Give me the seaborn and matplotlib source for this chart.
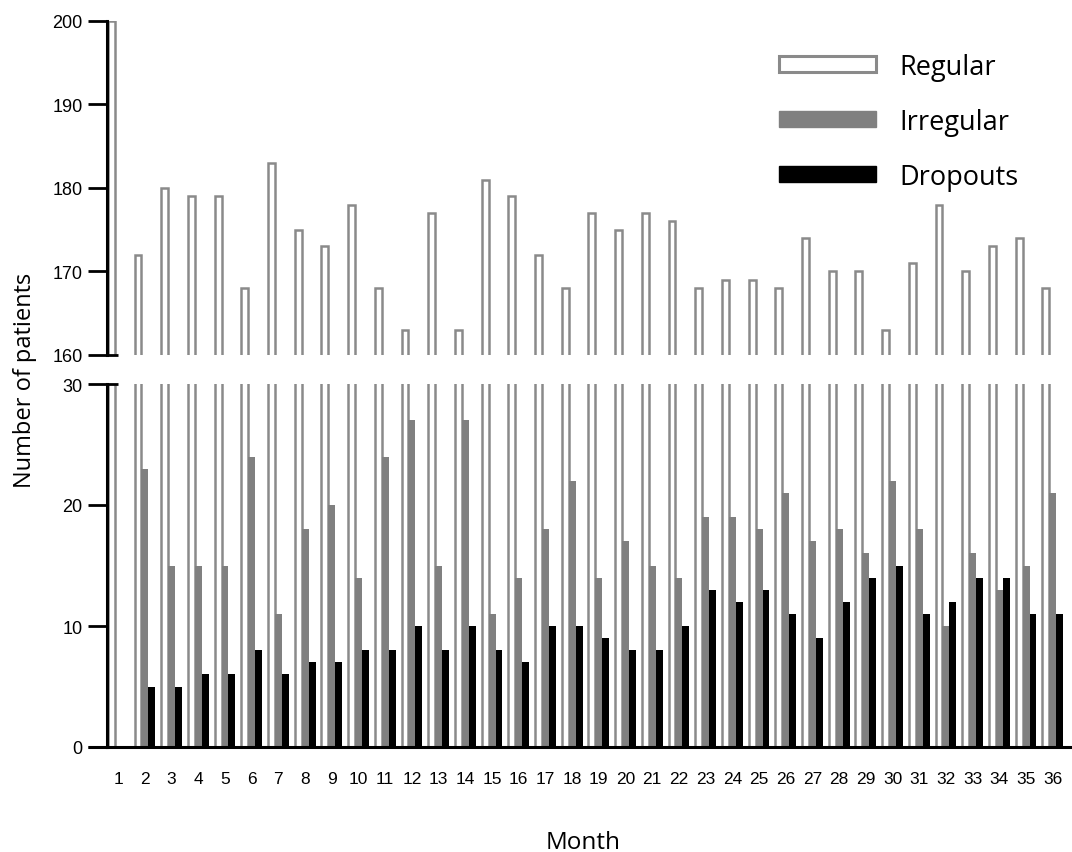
import numpy as np
import pandas as pd
import matplotlib
matplotlib.use("Agg")
import matplotlib.pyplot as plt
import seaborn as sns
from matplotlib.patches import Patch

months = [str(m) for m in range(1, 37)]
regular = [200, 172, 180, 179, 179, 168, 183, 175, 173, 178, 168, 163, 177, 163, 181, 179,
           172, 168, 177, 175, 177, 176, 168, 169, 169, 168, 174, 170, 170, 163, 171, 178,
           170, 173, 174, 168]
irregular = [0, 23, 15, 15, 15, 24, 11, 18, 20, 14, 24, 27, 15, 27, 11, 14,
             18, 22, 14, 17, 15, 14, 19, 19, 18, 21, 17, 18, 16, 22, 18, 10,
             16, 13, 15, 21]
dropouts = [0, 5, 5, 6, 6, 8, 6, 7, 7, 8, 8, 10, 8, 10, 8, 7,
            10, 10, 9, 8, 8, 10, 13, 12, 13, 11, 9, 12, 14, 15, 11, 12,
            14, 14, 11, 11]
groups = ["Regular", "Irregular", "Dropouts"]

df = pd.DataFrame({
    "Month": months * 3,
    "Patients": regular + irregular + dropouts,
    "Group": ["Regular"] * 36 + ["Irregular"] * 36 + ["Dropouts"] * 36,
})

sns.set_theme(style="white")
plt.rcParams["font.family"] = ["Liberation Sans", "DejaVu Sans"]

W, H = 1072, 853
fig = plt.figure(figsize=(W / 100, H / 100), dpi=100)
left = 107 / W
ax_top = fig.add_axes([left, (H - 356) / H, 1 - left, (356 - 22) / H])
ax_bot = fig.add_axes([left, (H - 748) / H, 1 - left, (748 - 385) / H])

palette = {"Regular": "white", "Irregular": "#808080", "Dropouts": "black"}
edge_gray = "#8a8a8a"

for ax in (ax_top, ax_bot):
    sns.barplot(data=df, x="Month", y="Patients", hue="Group", hue_order=groups,
                palette=palette, width=0.78, ax=ax, legend=False, saturation=1,
                linewidth=0)
    # style Regular bars: white fill with gray outline
    for p in ax.containers[0]:
        p.set_facecolor("white")
        p.set_edgecolor(edge_gray)
        p.set_linewidth(1.8)
    ax.set_xlim(-0.42, 35.72)
    ax.set_xlabel("")
    ax.set_ylabel("")
    for s in ["top", "right"]:
        ax.spines[s].set_visible(False)
    ax.spines["left"].set_linewidth(2.2)
    ax.spines["left"].set_color("black")
    ax.tick_params(axis="y", direction="out", length=14, width=2.0, color="black",
                   labelsize=13, labelcolor="black", pad=3.5, left=True)

ax_top.set_ylim(160, 200)
ax_top.set_yticks([160, 170, 180, 190, 200])
ax_top.spines["bottom"].set_visible(False)
ax_top.tick_params(axis="x", bottom=False, labelbottom=False)

ax_bot.set_ylim(0, 30)
ax_bot.set_yticks([0, 10, 20, 30])
ax_bot.spines["bottom"].set_linewidth(2.2)
ax_bot.spines["bottom"].set_color("black")
ax_bot.tick_params(axis="x", bottom=False, length=0, labelsize=12.5,
                   labelcolor="black", pad=17)

# break marks extending into the plot
ax_top.plot([0, 0.0115], [0, 0], transform=ax_top.transAxes, color="black",
            lw=2.0, clip_on=False, solid_capstyle="butt")
ax_bot.plot([0, 0.0115], [1, 1], transform=ax_bot.transAxes, color="black",
            lw=2.0, clip_on=False, solid_capstyle="butt")
# x axis line extends left to tick
ax_bot.plot([-0.0195, 0], [0, 0], transform=ax_bot.transAxes, color="black",
            lw=2.2, clip_on=False, solid_capstyle="butt")

lab_font = ["Open Sans", "DejaVu Sans"]
fig.text(25 / W, 1 - 380 / H, "Number of patients", rotation=90, ha="center",
         va="center", fontsize=17, family=lab_font, color="black")
fig.text(583 / W, 1 - 843 / H, "Month", ha="center", va="center",
         fontsize=17.5, family=lab_font, color="black")

handles = [Patch(facecolor="white", edgecolor=edge_gray, linewidth=2.2),
           Patch(facecolor="#808080", edgecolor="#808080"),
           Patch(facecolor="black", edgecolor="black")]
leg = ax_top.legend(handles, groups, loc="upper right", bbox_to_anchor=(0.97, 0.978),
                    frameon=False, handlelength=3.55, handleheight=0.55,
                    labelspacing=1.0, handletextpad=0.88,
                    prop={"family": lab_font, "size": 19.5})
for t in leg.get_texts():
    t.set_color("black")

fig.savefig("out.png", dpi=100)
